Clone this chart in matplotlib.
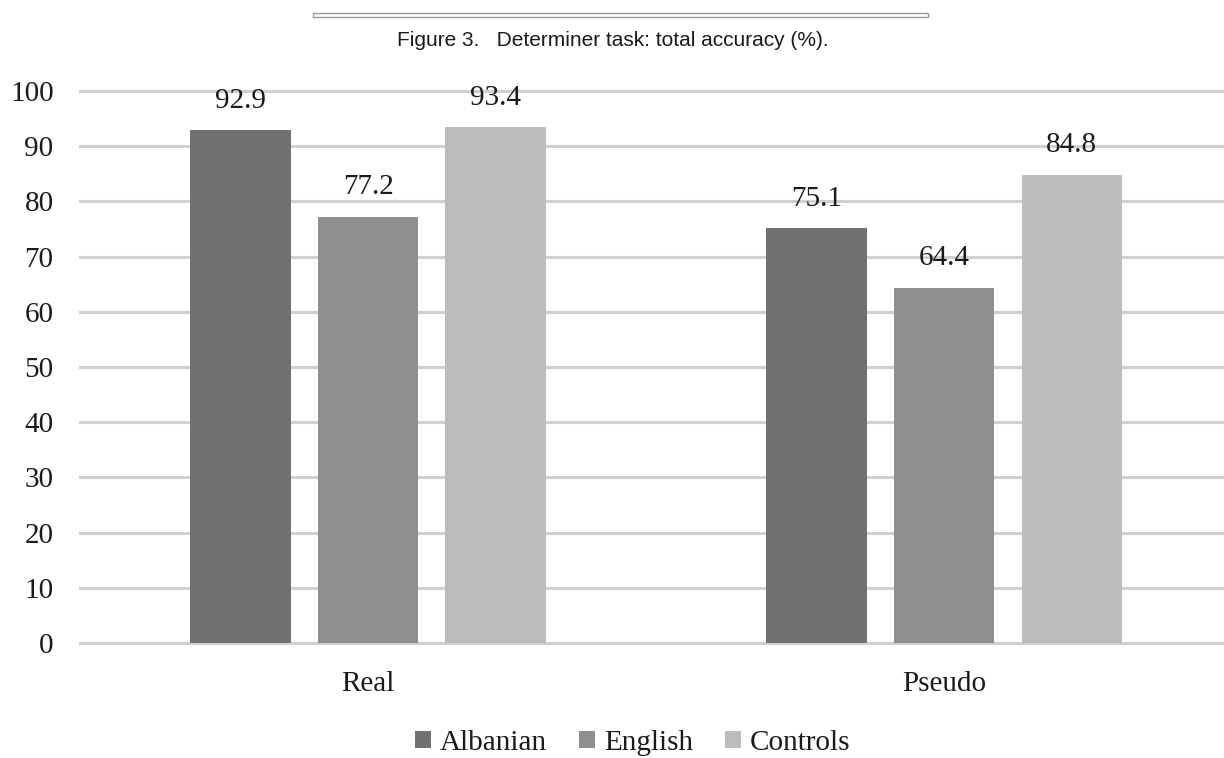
import matplotlib.pyplot as plt
from matplotlib.patches import Rectangle
import numpy as np

groups = ["Real", "Pseudo"]
series = ["Albanian", "English", "Controls"]
albanian = [92.9, 75.1]
english = [77.2, 64.4]
controls = [93.4, 84.8]
yticks = [0, 10, 20, 30, 40, 50, 60, 70, 80, 90, 100]

colors = ["#707070", "#8f8f8f", "#bcbcbc"]
serif = "Liberation Serif"
fs = 21

fig = plt.figure(figsize=(12.24, 7.58), dpi=100)
W, H = 1224, 758
ax = fig.add_axes([80 / W, 1 - 643 / H, 1 - 80 / W, (643 - 91) / H])

x = np.arange(len(groups))
width = 0.175
step = 0.222
for i, (name, vals, c) in enumerate(zip(series, [albanian, english, controls], colors)):
    pos = x + (i - 1) * step
    bars = ax.bar(pos, vals, width, color=c, label=name, zorder=3)
    for b, v in zip(bars, vals):
        ax.text(b.get_x() + b.get_width() / 2, v + 3.0, f"{v:.1f}",
                ha="center", va="bottom", fontsize=fs, family=serif, color="#1a1a1a")

ax.set_ylim(0, 100)
ax.set_xlim(-0.5, 1.486)
ax.set_yticks(yticks)
ax.set_xticks(x)
ax.set_xticklabels(groups)
for t in yticks:
    ax.axhline(t, color="#d0d0d0", linewidth=2.2, zorder=0, clip_on=False)
ax.tick_params(length=0)
ax.tick_params(axis="y", pad=19, labelsize=fs)
ax.tick_params(axis="x", pad=20, labelsize=fs)
for lbl in ax.get_xticklabels() + ax.get_yticklabels():
    lbl.set_family(serif)
    lbl.set_color("#1a1a1a")
for s in ax.spines.values():
    s.set_visible(False)

leg = fig.legend(loc="center", bbox_to_anchor=(633 / W, 1 - 743 / H), ncol=3,
                 frameon=False, prop={"family": serif, "size": fs},
                 handlelength=0.55, handleheight=0.55, handletextpad=0.3,
                 columnspacing=1.1)
for t in leg.get_texts():
    t.set_color("#1a1a1a")

fig.text(613 / W, 1 - 40 / H, "Figure 3.   Determiner task: total accuracy (%).",
         ha="center", va="center", fontsize=15, family="Liberation Sans", color="#1a1a1a")

# thin frame strip across the top
fig.patches.append(Rectangle((313 / W, 1 - 17 / H), (928 - 313) / W, 4 / H,
                             transform=fig.transFigure, fill=False,
                             edgecolor="#999999", linewidth=1))

fig.savefig("out.png", dpi=100)
